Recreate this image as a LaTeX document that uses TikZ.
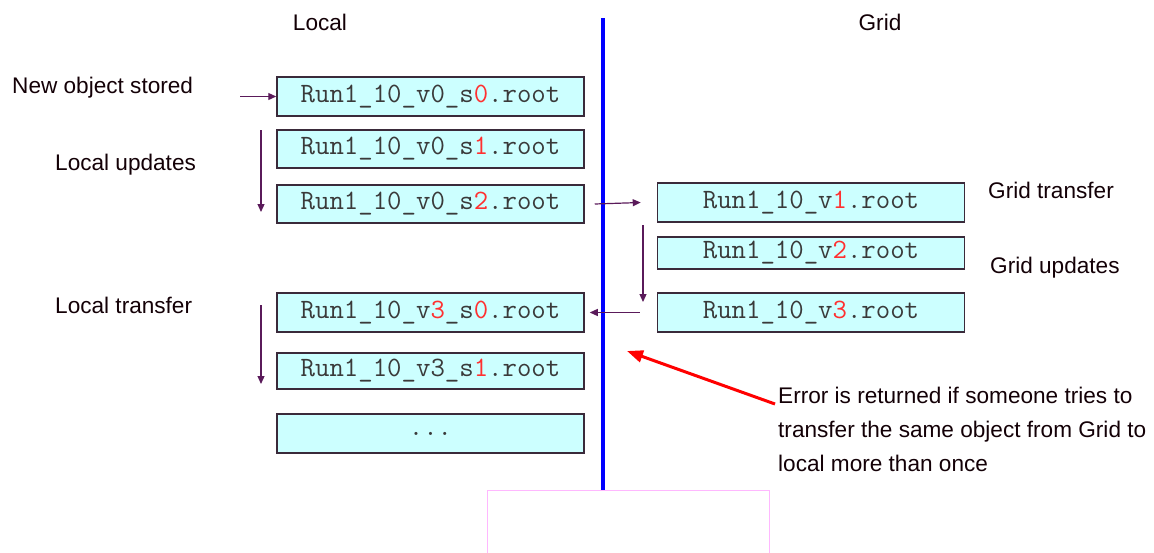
\documentclass[tikz,border=0pt]{standalone}
\usepackage{fontspec}
\setmainfont{Liberation Sans}
\usetikzlibrary{arrows.meta}
\definecolor{boxfill}{HTML}{CCFFFF}
\definecolor{boxline}{HTML}{3A2A3A}
\definecolor{flowcol}{HTML}{5A1A5A}
\definecolor{digit}{HTML}{FF3030}
\definecolor{fname}{HTML}{3A3A3A}
\definecolor{frame}{HTML}{FFB8FF}
\newcommand{\rd}[1]{\textcolor{digit}{#1}}
\newcommand{\us}{\_}
\tikzset{
  file/.style={draw=boxline, fill=boxfill, line width=1.5pt, minimum width=307pt,
    minimum height=38pt, inner sep=0pt, text=fname,
    font=\ttfamily\fontsize{28}{32}\selectfont},
  lbl/.style={anchor=west, inner sep=0pt, text=black!90!purple, align=left,
    font=\fontsize{22.6}{34}\selectfont},
  flow/.style={draw=flowcol, line width=1.2pt, -{Triangle[length=8pt,width=7pt]}}
}
\begin{document}
\begin{tikzpicture}[x=1pt, y=-1pt]
  \useasboundingbox (0,0) rectangle (1154,552);
  % divider between the two sides
  \coordinate (top) at (603,18);
  \coordinate (bot) at (603,490);
  \draw[frame, line width=1pt] (487,560) |- (769,490) -- (769,560);
  \draw[blue, line width=4pt] (top) -- (bot);
  \node[lbl, anchor=center] (hloc) at (320,22) {Local};
  \node[lbl, anchor=center] (hgrid) at (880,22) {Grid};
  % local copies
  \node[file, minimum height=39pt] (s0) at (430.5,96.5) {Run1\us10\us v0\us s\rd{0}.root};
  \node[file] (s1) at (430.5,149) {Run1\us10\us v0\us s\rd{1}.root};
  \node[file] (s2) at (430.5,204) {Run1\us10\us v0\us s\rd{2}.root};
  \node[file, minimum height=39pt] (t0) at (430.5,312.5) {Run1\us10\us v\rd{3}\us s\rd{0}.root};
  \node[file, minimum height=36pt] (t1) at (430.5,371) {Run1\us10\us v3\us s\rd{1}.root};
  \node[file, minimum height=39pt] (more) at (430.5,433.5) {...};
  % grid copies
  \node[file, minimum height=39pt] (v1) at (811,202.5) {Run1\us10\us v\rd{1}.root};
  \node[file, minimum height=32pt] (v2) at (811,253) {Run1\us10\us v\rd{2}.root};
  \node[file, minimum height=39pt] (v3) at (811,312.5) {Run1\us10\us v\rd{3}.root};
  % labels
  \node[lbl] (newobj) at (12,88) {New object stored};
  \node[lbl] (locupd) at (55,165) {Local updates};
  \node[lbl] (loctr) at (55,305) {Local transfer};
  \node[lbl] (gridtr) at (988,190) {Grid transfer};
  \node[lbl] (gridupd) at (990,268) {Grid updates};
  \node[lbl] (err) at (778,429) {Error is returned if someone tries to\\
    transfer the same object from Grid to\\local more than once};
  \coordinate (newin) at (240,96.5);
  \coordinate (lu1) at (261,130);
  \coordinate (lu2) at (261,212);
  \coordinate (gu1) at (643,225);
  \coordinate (gu2) at (643,302);
  \coordinate (lt1) at (261,305);
  \coordinate (lt2) at (261,384);
  \coordinate (errfrom) at (775,404);
  \coordinate (errto) at (627,351);
  \draw[flow] (newin) -- (s0.west);
  \draw[flow] (lu1) -- (lu2);
  \draw[flow] ([xshift=10pt]s2.east) -- ([xshift=-16pt]v1.west);
  \draw[flow] (gu1) -- (gu2);
  \draw[flow] ([xshift=-17pt]v3.west) -- ([xshift=5pt]t0.east);
  \draw[flow] (lt1) -- (lt2);
  \draw[red, line width=3pt, -{Triangle[length=16pt,width=12pt]}] (errfrom) -- (errto);
\end{tikzpicture}
\end{document}
